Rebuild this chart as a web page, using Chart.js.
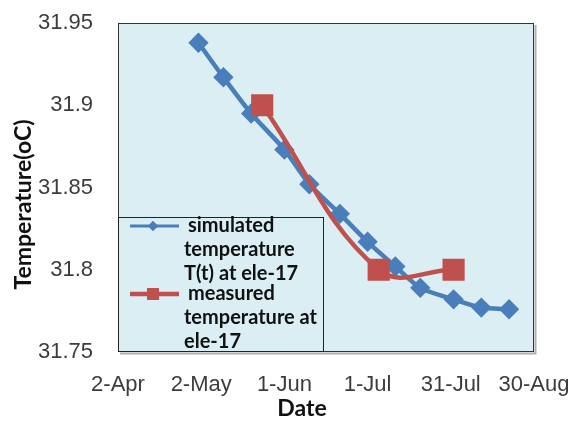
<!DOCTYPE html>
<html lang="en">
<head>
  <meta charset="UTF-8" />
  <title>Temperature at ele-17</title>
  <script src="https://cdn.jsdelivr.net/npm/chart.js"></script>
  <style>
    html, body { margin: 0; padding: 0; background: #fff; }
    #wrap { width: 574px; height: 424px; position: relative; }
  </style>
</head>
<body>
  <div id="wrap"><canvas id="tempChart"></canvas></div>

  <script>
    // x axis runs from 2-Apr in 30 day steps
    const startDate = "2010-04-02";
    const xTickLabels = ["2-Apr", "2-May", "1-Jun", "1-Jul", "31-Jul", "30-Aug"];

    const simDates = ["2010-05-01", "2010-05-10", "2010-05-20", "2010-06-01", "2010-06-10", "2010-06-21",
                      "2010-07-01", "2010-07-11", "2010-07-20", "2010-08-01", "2010-08-11", "2010-08-21"];
    const simTemps = [31.938, 31.917, 31.895, 31.873, 31.852, 31.834,
                      31.817, 31.802, 31.789, 31.782, 31.777, 31.776];

    const measDates = ["2010-05-24", "2010-07-05", "2010-08-01"];
    const measTemps = [31.900, 31.800, 31.800];

    const simLabel = ["simulated", "temperature", "T(t) at ele-17"];
    const measLabel = ["measured", "temperature at", "ele-17"];
    const xTitle = "Date";
    const yTitle = "Temperature(oC)";

    const BLUE = "#4a7ebb";
    const RED = "#c0504d";
    const PLOT_BG = "#dbeef4";
    const TICK_COLOR = "#3c3c3c";
    const TITLE_FONT = "bold 23px Lato";

    const dayOf = (s) => (Date.parse(s) - Date.parse(startDate)) / 86400000;
    const toPoints = (dates, temps) => dates.map((d, i) => ({ x: dayOf(d), y: temps[i] }));

    // light blue plot area with a dark frame
    const plotFrame = {
      id: "plotFrame",
      beforeDraw(chart) {
        const { ctx, chartArea: a } = chart;
        ctx.save();
        ctx.fillStyle = PLOT_BG;
        ctx.fillRect(a.left, a.top, a.right - a.left, a.bottom - a.top);
        ctx.strokeStyle = "#b0b0b0";
        ctx.lineWidth = 2;
        ctx.beginPath();
        ctx.moveTo(a.right + 1.5, a.top + 2);
        ctx.lineTo(a.right + 1.5, a.bottom + 1.5);
        ctx.lineTo(a.left + 2, a.bottom + 1.5);
        ctx.stroke();
        ctx.strokeStyle = "#333";
        ctx.lineWidth = 1;
        ctx.strokeRect(a.left + 0.5, a.top + 0.5, a.right - a.left - 1, a.bottom - a.top - 1);
        ctx.restore();
      },
      // axis titles sit a bit off-centre in the original, so place them here
      afterDraw(chart) {
        const { ctx, chartArea: a } = chart;
        ctx.save();
        ctx.font = TITLE_FONT;
        ctx.fillStyle = "#111";
        ctx.textAlign = "center";
        ctx.textBaseline = "middle";
        ctx.fillText(xTitle, (a.left + a.right) / 2 - 24, 409);
        ctx.translate(24, (a.top + a.bottom) / 2 + 17);
        ctx.rotate(-Math.PI / 2);
        ctx.fillText(yTitle, 0, 0);
        ctx.restore();
      }
    };

    // legend box sitting inside the lower left of the plot, wrapped text
    const boxLegend = {
      id: "boxLegend",
      afterDatasetsDraw(chart) {
        const { ctx, chartArea: a } = chart;
        const left = a.left, right = a.left + 205, top = a.bottom - 135, bottom = a.bottom;
        ctx.save();
        ctx.fillStyle = PLOT_BG;
        ctx.fillRect(left, top, right - left, bottom - top);
        ctx.strokeStyle = "#222";
        ctx.lineWidth = 1;
        ctx.strokeRect(left + 0.5, top + 0.5, right - left, bottom - top - 1);

        const entries = [
          { lines: simLabel, color: BLUE, width: 3, style: "rectRot", r: 5, y: top + 9 },
          { lines: measLabel, color: RED, width: 4.5, style: "rect", r: 8.5, y: top + 77 }
        ];
        ctx.font = "bold 20px Lato";
        ctx.textBaseline = "middle";
        entries.forEach(e => {
          ctx.strokeStyle = e.color;
          ctx.lineWidth = e.width;
          ctx.beginPath();
          ctx.moveTo(left + 12, e.y);
          ctx.lineTo(left + 61, e.y);
          ctx.stroke();
          ctx.fillStyle = e.color;
          Chart.helpers.drawPoint(ctx, { pointStyle: e.style, radius: e.r, borderWidth: 0 }, left + 35, e.y);
          ctx.fill();
          ctx.fillStyle = "#111";
          e.lines.forEach((t, i) => ctx.fillText(t, left + (i === 0 ? 70 : 66), e.y + i * 24));
        });
        ctx.restore();
      }
    };

    // let the layout padding alone decide where the plot edges go
    const noLabelPadding = (s) => {
      s.paddingTop = 0; s.paddingBottom = 0; s.paddingLeft = 0; s.paddingRight = 0;
    };

    new Chart(document.getElementById("tempChart"), {
      type: "line",
      data: {
        datasets: [
          {
            label: measLabel.join(" "),
            data: toPoints(measDates, measTemps),
            borderColor: RED,
            backgroundColor: RED,
            borderWidth: 4.5,
            pointStyle: "rect",
            pointRadius: 12.5,
            pointHoverRadius: 12.5,
            tension: 0.4,
            order: 0
          },
          {
            label: simLabel.join(" "),
            data: toPoints(simDates, simTemps),
            borderColor: BLUE,
            backgroundColor: BLUE,
            borderWidth: 4.5,
            pointStyle: "rectRot",
            pointRadius: 7,
            pointHoverRadius: 7,
            tension: 0.25,
            order: 1
          }
        ]
      },
      options: {
        responsive: true,
        maintainAspectRatio: false,
        animation: false,
        layout: { padding: { top: 23, right: 40, left: 0, bottom: 0 } },
        plugins: {
          legend: { display: false },
          tooltip: { enabled: false }
        },
        scales: {
          x: {
            type: "linear",
            min: 0,
            max: 150,
            grid: { display: false, drawTicks: false },
            border: { display: false },
            ticks: {
              stepSize: 30,
              padding: 20,
              color: TICK_COLOR,
              font: { family: "Liberation Sans", size: 22 },
              maxRotation: 0,
              callback: (v, i) => xTickLabels[i]
            },
            afterFit: (s) => { s.height = 72; noLabelPadding(s); }
          },
          y: {
            min: 31.75,
            max: 31.95,
            grid: { display: false, drawTicks: false },
            border: { display: false },
            ticks: {
              stepSize: 0.05,
              padding: 25,
              color: TICK_COLOR,
              font: { family: "Liberation Sans", size: 22 },
              callback: (v) => String(+v.toFixed(2))
            },
            afterFit: (s) => { s.width = 118; noLabelPadding(s); }
          }
        }
      },
      plugins: [plotFrame, boxLegend]
    });
  </script>
</body>
</html>
